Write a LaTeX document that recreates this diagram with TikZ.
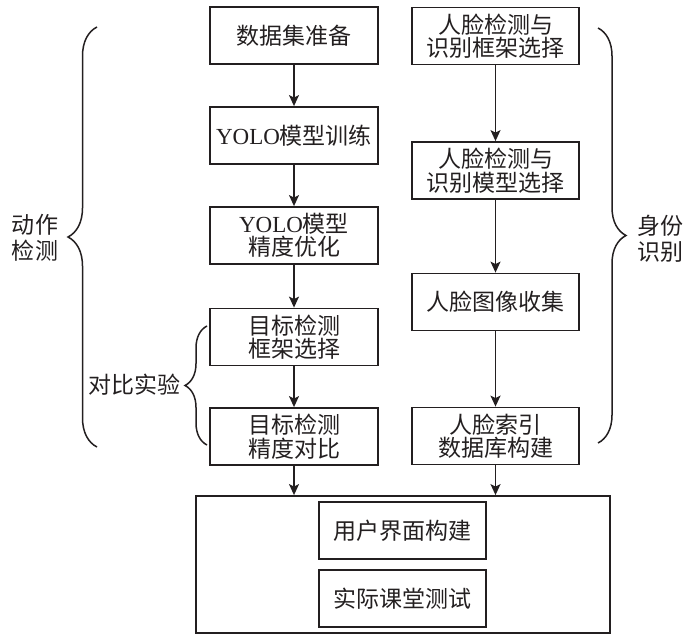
\documentclass[tikz,border=0pt]{standalone}
\usepackage{fontspec}
\setmainfont{Liberation Serif}
\newfontfamily\cjk{Noto Sans CJK SC}
\usetikzlibrary{arrows.meta,decorations.pathreplacing}
\definecolor{ink}{RGB}{35,31,32}
\begin{document}
\begin{tikzpicture}[x=1pt,y=-1pt,
  box/.style={draw=ink, line width=1.8pt, text=ink, font=\cjk\fontsize{23}{23.5}\selectfont,
    align=center, inner sep=0pt, minimum width=168pt, minimum height=57pt},
  arr/.style={draw=ink, line width=1.5pt, -{Stealth[length=11pt,width=10pt,inset=2.5pt]}},
  brc/.style={draw=ink, line width=1.5pt, decorate, decoration={brace, amplitude=#1}},
  lab/.style={text=ink, font=\cjk\fontsize{23}{26}\selectfont, align=center, inner sep=0pt}]
\useasboundingbox (0,0) rectangle (684,636);
% left column
\node[box] (a1) at (294,35.5) {数据集准备};
\node[box] (a2) at (294,135.5) {{\rmfamily YOLO}模型训练};
\node[box] (a3) at (294,235.5) {{\rmfamily YOLO}模型\\精度优化};
\node[box] (a4) at (294,337) {目标检测\\框架选择};
\node[box] (a5) at (294,436.5) {目标检测\\精度对比};
% right column
\node[box, minimum width=167pt] (b1) at (495.5,36) {人脸检测与\\识别框架选择};
\node[box, minimum width=167pt] (b2) at (495.5,170.5) {人脸检测与\\识别模型选择};
\node[box, minimum width=167pt] (b3) at (495.5,302) {人脸图像收集};
\node[box, minimum width=167pt] (b4) at (495.5,436) {人脸索引\\数据库构建};
% bottom
\node[draw=ink, line width=1.8pt, minimum width=414pt, minimum height=137pt, inner sep=0pt] (big) at (403,564.5) {};
\node[box, minimum width=167pt] (c1) at (402.5,530.5) {用户界面构建};
\node[box, minimum width=167pt] (c2) at (402.5,598.5) {实际课堂测试};
% arrows
\draw[arr] (a1) -- (a2);
\draw[arr] (a2) -- (a3);
\draw[arr] (a3) -- (a4);
\draw[arr] (a4) -- (a5);
\draw[arr] (b1) -- (b2);
\draw[arr] (b2) -- (b3);
\draw[arr] (b3) -- (b4);
\draw[arr] (a5) -- (a5 |- big.north);
\draw[arr] (b4) -- (b4 |- big.north);
% braces
\coordinate (lbB) at (97,447);
\coordinate (lbT) at (97,27);
\draw[brc=29] (lbB) -- (lbT);
\coordinate (sbB) at (207,445);
\coordinate (sbT) at (207,326);
\draw[brc=22] (sbB) -- (sbT);
\coordinate (rbT) at (598,28);
\coordinate (rbB) at (598,443);
\draw[brc=28] (rbT) -- (rbB);
% labels
\node[lab] (l1) at (35,238) {动作\\检测};
\node[lab] (l2) at (134,385) {对比实验};
\node[lab] (l3) at (660,239) {身份\\识别};
\end{tikzpicture}
\end{document}
